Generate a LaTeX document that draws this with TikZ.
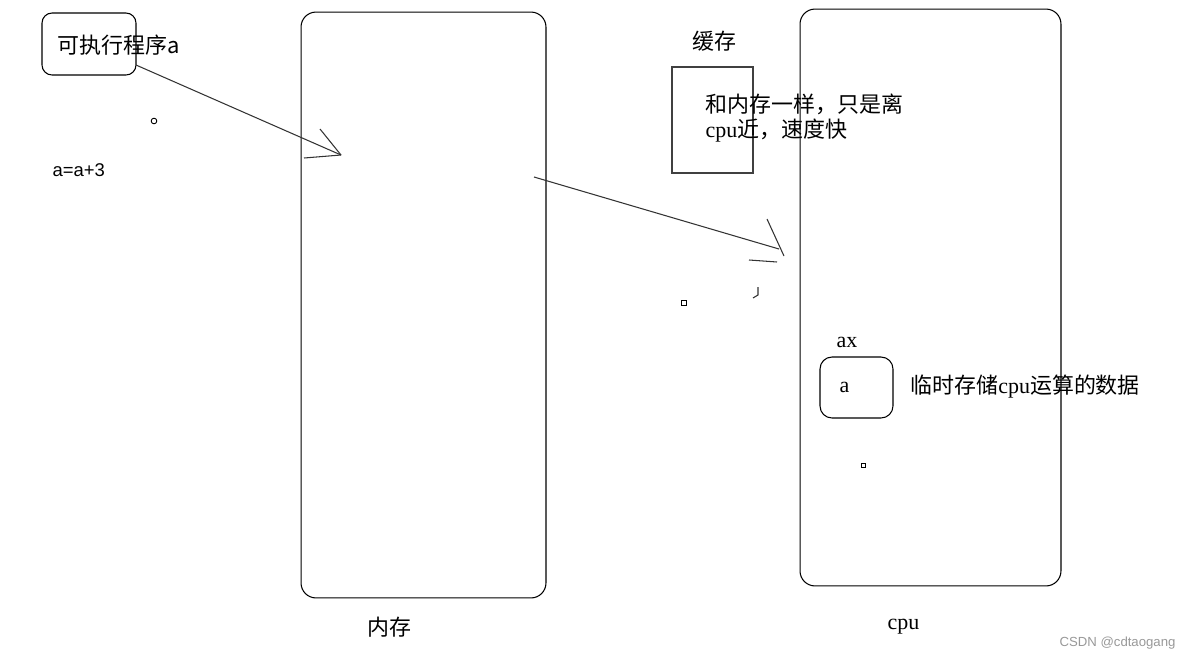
\documentclass[tikz,border=0pt]{standalone}
\usepackage{fontspec}
\setmainfont{Liberation Serif}
\newfontfamily\cjk{Noto Sans CJK SC}
\newfontfamily\lsans{Liberation Sans}
\newcommand\setfs[1]{\fontsize{#1}{#1}\selectfont}
\begin{document}
\begin{tikzpicture}[x=0.02cm,y=-0.02cm,line width=0.6pt,
  rbox/.style={draw,inner sep=0pt},
  txt/.style={anchor=west,inner sep=0pt,font=\setfs{12.5pt}},
  stroke/.style={line width=0.6pt,black!80}]
\useasboundingbox (0,0) rectangle (1184,660);
\fill[white] (0,0) rectangle (1184,660);
% boxes
\node[rbox,rounded corners=0.2cm,minimum width=1.88cm,minimum height=1.24cm] (prog) at (89,44) {};
\node[rbox,rounded corners=0.3cm,minimum width=4.9cm,minimum height=11.72cm] (mem) at (423.5,305) {};
\node[rbox,draw=black!75,minimum width=1.62cm,minimum height=2.12cm] (cache) at (712.5,120) {};
\node[rbox,rounded corners=0.3cm,minimum width=5.22cm,minimum height=11.54cm] (cpu) at (930.5,297.5) {};
\node[rbox,rounded corners=0.24cm,minimum width=1.46cm,minimum height=1.22cm] (axbox) at (856.5,387.5) {};
% texts
\node[txt] (progt) at (57,45) {\cjk 可执行程序a};
\node[txt,font=\lsans\setfs{10.5pt}] (eq) at (52,170) {a=a+3};
\node[txt] (cachet) at (692,41) {\cjk 缓存};
\node[txt] (c1) at (705,104) {\cjk 和内存一样，只是离};
\node[txt] (c2) at (705,131) {cpu\cjk 近，速度快};
\node[txt] (axt) at (836,342) {ax};
\node[txt] (at) at (839,387) {a};
\node[txt] (regt) at (910,387) {\cjk 临时存储\rmfamily cpu\cjk 运算的数据};
\node[txt] (memt) at (367,627) {\cjk 内存};
\node[txt] (cput) at (887,627) {cpu};
\node[anchor=east,inner sep=0pt,font=\lsans\setfs{7.5pt},text=black!40] (wm) at (1176,643) {CSDN @cdtaogang};
% arrow 1
\coordinate (s1) at (136,65);
\coordinate (t1) at (341,155);
\draw[stroke] (s1) -- (t1);
\draw[stroke] (320,129) -- (t1);
\draw[stroke] (304,158) -- (t1);
% arrow 2
\coordinate (s2) at (534,177);
\coordinate (t2) at (779,249);
\coordinate (h2) at (784,256);
\draw[stroke] (s2) -- (t2);
\draw[stroke] (767,219) -- (h2);
\draw[stroke] (749,260) -- (777,262);
\draw[stroke] (758,287) -- (758,295) -- (753,298);
% small marks
\draw[line width=0.5pt] (154,121) circle[radius=2.8];
\draw[line width=0.5pt] (681,300) rectangle (686,305);
\draw[line width=0.5pt] (861,463) rectangle (865,467);
\end{tikzpicture}
\end{document}
